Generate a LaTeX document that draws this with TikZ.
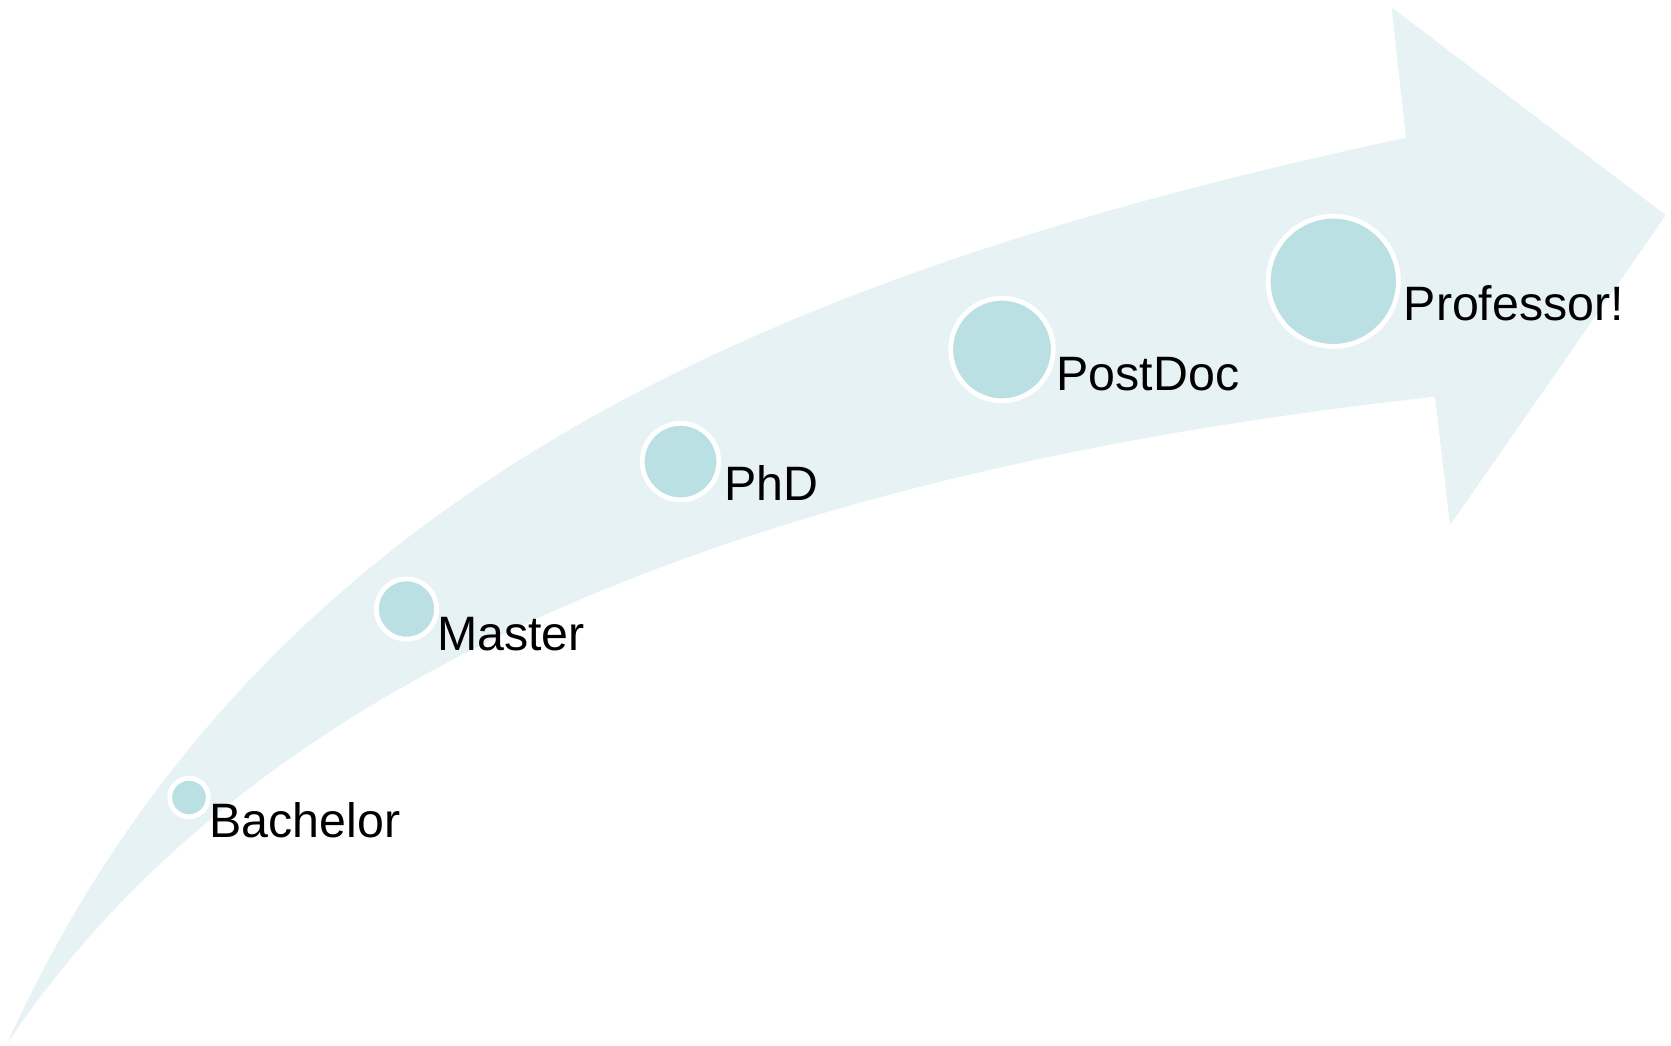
\documentclass[tikz,border=0pt]{standalone}
\usepackage{fontspec}
\setmainfont{Liberation Sans}
\definecolor{bandfill}{HTML}{E6F2F4}
\definecolor{dotfill}{HTML}{BAE0E3}
\begin{document}
\begin{tikzpicture}[x=1pt,y=-1pt,
  stage/.style={circle,fill=dotfill,draw=white,line width=4.8pt,inner sep=0pt},
  lbl/.style={anchor=base west,inner sep=0pt,outer sep=0pt,text=black,font=\fontsize{48.3}{58}\selectfont}]
\useasboundingbox (0,0) rectangle (1671,1045);
\fill[white] (0,0) rectangle (1671,1045);
% curved arrow
\fill[bandfill] (7.3,1043.3) .. controls (267,471) and (806,267) .. (1406,137.7)
  -- (1391.7,7.6) -- (1665.7,215.2) -- (1450,525.1) -- (1435,396.7)
  .. controls (885,457) and (292,616) .. cycle;
% stages
\node[stage,minimum size=38.6pt] (bach) at (189,797.5) {};
\node[stage,minimum size=60.2pt] (mast) at (406.5,609) {};
\node[stage,minimum size=76.6pt] (phd) at (680.5,461.6) {};
\node[stage,minimum size=102.6pt] (postdoc) at (1002,349.5) {};
\node[stage,minimum size=130.2pt] (prof) at (1333.3,281.3) {};
% labels
\node[lbl] (bachl) at ([shift={(-1,40)}]bach.east) {Bachelor};
\node[lbl] (mastl) at ([shift={(-2,41)}]mast.east) {Master};
\node[lbl] (phdl) at ([shift={(3,39)}]phd.east) {PhD};
\node[lbl] (postdocl) at ([shift={(1,40.5)}]postdoc.east) {PostDoc};
\node[lbl] (profl) at ([shift={(3,39.6)}]prof.east) {Professor!};
\end{tikzpicture}
\end{document}
